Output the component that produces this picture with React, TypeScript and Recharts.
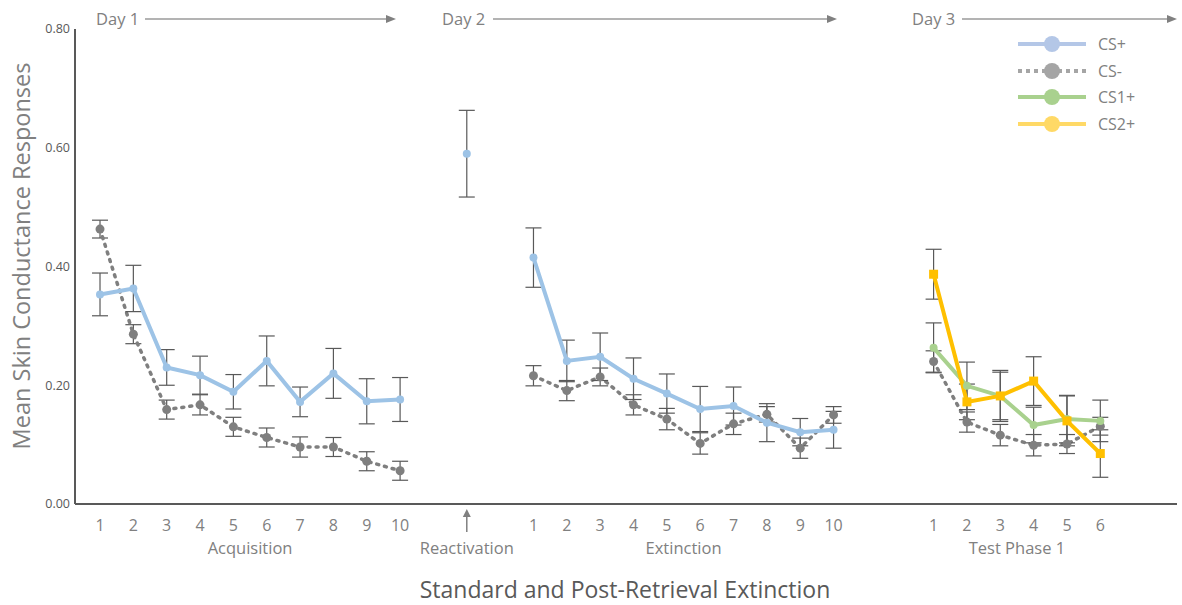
import React from 'react';
import { LineChart, Line, XAxis, YAxis, ErrorBar } from 'recharts';

// slot layout on the x axis
const acqStart = 0;
const reactSlot = 11;
const extStart = 13;
const testStart = 25;
const lastSlot = 30;

const acqCSPlus = [0.353, 0.363, 0.23, 0.217, 0.189, 0.241, 0.172, 0.22, 0.173, 0.176];
const acqCSPlusErr = [0.036, 0.039, 0.03, 0.032, 0.029, 0.042, 0.025, 0.042, 0.038, 0.037];
const acqCSMinus = [0.463, 0.286, 0.159, 0.167, 0.13, 0.112, 0.096, 0.096, 0.072, 0.056];
const acqCSMinusErr = [0.015, 0.016, 0.016, 0.017, 0.016, 0.016, 0.017, 0.016, 0.016, 0.016];

const reactCSPlus = 0.59;
const reactCSPlusErr = 0.073;

const extCSPlus = [0.415, 0.241, 0.248, 0.211, 0.186, 0.16, 0.165, 0.137, 0.121, 0.125];
const extCSPlusErr = [0.05, 0.035, 0.04, 0.035, 0.033, 0.038, 0.032, 0.032, 0.023, 0.031];
const extCSMinus = [0.216, 0.191, 0.214, 0.167, 0.143, 0.102, 0.135, 0.151, 0.094, 0.15];
const extCSMinusErr = [0.017, 0.017, 0.015, 0.017, 0.018, 0.018, 0.018, 0.013, 0.017, 0.014];

const testCSMinus = [0.24, 0.138, 0.116, 0.099, 0.101, 0.131];
const testCSMinusErr = [0.018, 0.017, 0.018, 0.018, 0.016, 0.015];
const testCS1Plus = [0.263, 0.199, 0.182, 0.133, 0.143, 0.14];
const testCS1PlusErr = [0.042, 0.04, 0.04, 0.03, 0.04, 0.035];
const testCS2Plus = [0.387, 0.172, 0.182, 0.207, 0.14, 0.085];
const testCS2PlusErr = [0.042, 0.03, 0.043, 0.041, 0.042, 0.04];

const yTicks = [0, 0.2, 0.4, 0.6, 0.8];

const groups = [
  { name: 'Acquisition', start: acqStart, count: acqCSPlus.length },
  { name: 'Reactivation', start: reactSlot, count: 1 },
  { name: 'Extinction', start: extStart, count: extCSPlus.length },
  { name: 'Test Phase 1', start: testStart, count: testCSMinus.length },
];

const legendItems = [
  { name: 'CS+', color: '#b4c7e7', dashed: false },
  { name: 'CS-', color: '#a5a5a5', dashed: true },
  { name: 'CS1+', color: '#a9d18e', dashed: false },
  { name: 'CS2+', color: '#ffd966', dashed: false },
];

const FONT = '"Open Sans", "Noto Sans", sans-serif';

type Row = {
  x: number;
  csPlus: number | null;
  csPlusErr: number | null;
  csMinus: number | null;
  csMinusErr: number | null;
  cs1Plus: number | null;
  cs1PlusErr: number | null;
  cs2Plus: number | null;
  cs2PlusErr: number | null;
};

const rows: Row[] = [];
for (let i = 0; i <= lastSlot; i++) {
  rows.push({
    x: i,
    csPlus: null,
    csPlusErr: null,
    csMinus: null,
    csMinusErr: null,
    cs1Plus: null,
    cs1PlusErr: null,
    cs2Plus: null,
    cs2PlusErr: null,
  });
}
acqCSPlus.forEach((v, i) => {
  const r = rows[acqStart + i];
  r.csPlus = v;
  r.csPlusErr = acqCSPlusErr[i];
  r.csMinus = acqCSMinus[i];
  r.csMinusErr = acqCSMinusErr[i];
});
rows[reactSlot].csPlus = reactCSPlus;
rows[reactSlot].csPlusErr = reactCSPlusErr;
extCSPlus.forEach((v, i) => {
  const r = rows[extStart + i];
  r.csPlus = v;
  r.csPlusErr = extCSPlusErr[i];
  r.csMinus = extCSMinus[i];
  r.csMinusErr = extCSMinusErr[i];
});
testCSMinus.forEach((v, i) => {
  const r = rows[testStart + i];
  r.csMinus = v;
  r.csMinusErr = testCSMinusErr[i];
  r.cs1Plus = testCS1Plus[i];
  r.cs1PlusErr = testCS1PlusErr[i];
  r.cs2Plus = testCS2Plus[i];
  r.cs2PlusErr = testCS2PlusErr[i];
});

// trial number ticks
const trialTickLabels: Record<number, string> = {};
acqCSPlus.forEach((_, i) => (trialTickLabels[acqStart + i] = String(i + 1)));
trialTickLabels[reactSlot] = '';
extCSPlus.forEach((_, i) => (trialTickLabels[extStart + i] = String(i + 1)));
testCSMinus.forEach((_, i) => (trialTickLabels[testStart + i] = String(i + 1)));
const trialTicks = Object.keys(trialTickLabels).map(Number);

const groupTicks = groups.map((g) => g.start + (g.count - 1) / 2);
const groupName = (v: number) => {
  const g = groups.find((gr) => gr.start + (gr.count - 1) / 2 === v);
  return g ? g.name : '';
};

const TrialTick = (props: any) => {
  const { x, y, payload } = props;
  if (payload.value === reactSlot) {
    return (
      <g>
        <line x1={x} y1={y + 11} x2={x} y2={y + 28} stroke="#808080" strokeWidth={1.5} />
        <polygon points={`${x - 4},${y + 13} ${x + 4},${y + 13} ${x},${y + 5}`} fill="#808080" />
      </g>
    );
  }
  return (
    <text x={x} y={y + 27} textAnchor="middle" fill="#808080" fontSize={16} fontFamily={FONT}>
      {trialTickLabels[payload.value]}
    </text>
  );
};

const GroupTick = (props: any) => {
  const { x, y, payload } = props;
  return (
    <text x={x} y={y + 20} textAnchor="middle" fill="#808080" fontSize={16.5} fontFamily={FONT}>
      {groupName(payload.value)}
    </text>
  );
};

const SquareDot = (props: any) => {
  const { cx, cy, value, index } = props;
  if (value == null || cy == null) return <g key={`sq-${index}`} />;
  return <rect key={`sq-${index}`} x={cx - 4.5} y={cy - 4.5} width={9} height={9} fill="#ffc000" />;
};

const dayArrows = [
  { label: 'Day 1', x: 96, x1: 145, x2: 396 },
  { label: 'Day 2', x: 442, x1: 493, x2: 837 },
  { label: 'Day 3', x: 912, x1: 962, x2: 1177 },
];

export default function App() {
  return (
    <div style={{ position: 'absolute', left: 0, top: 0, width: 1182, height: 605, background: '#fff' }}>
      <LineChart width={1182} height={605} data={rows} margin={{ top: 29, right: 5, bottom: 41, left: 0 }}>
        <YAxis
          width={75}
          domain={[0, 0.8]}
          ticks={yTicks}
          tickFormatter={(v: number) => v.toFixed(2)}
          tickLine={false}
          tickSize={0}
          tickMargin={5}
          axisLine={{ stroke: '#595959', strokeWidth: 2 }}
          tick={{ fill: '#595959', fontSize: 12.5, fontFamily: FONT }}
        />
        <XAxis
          xAxisId="a_trial"
          dataKey="x"
          type="number"
          domain={[-0.75, 32.3]}
          allowDataOverflow
          ticks={trialTicks}
          interval={0}
          height={30}
          tickLine={false}
          tickSize={0}
          tickMargin={0}
          axisLine={{ stroke: '#595959', strokeWidth: 2 }}
          tick={<TrialTick />}
        />
        <XAxis
          xAxisId="b_group"
          dataKey="x"
          type="number"
          domain={[-0.75, 32.3]}
          allowDataOverflow
          ticks={groupTicks}
          interval={0}
          height={30}
          tickLine={false}
          tickSize={0}
          tickMargin={0}
          axisLine={false}
          tick={<GroupTick />}
        />
        <Line
          xAxisId="a_trial"
          dataKey="csMinus"
          name="CS-"
          stroke="#7f7f7f"
          strokeWidth={3.5}
          strokeDasharray="2 6"
          strokeLinecap="round"
          dot={{ r: 4.5, fill: '#7f7f7f', stroke: 'none' }}
          isAnimationActive={false}
        >
          <ErrorBar dataKey="csMinusErr" width={8} stroke="#595959" strokeWidth={1.2} direction="y" />
        </Line>
        <Line
          xAxisId="a_trial"
          dataKey="csPlus"
          name="CS+"
          stroke="#9dc3e6"
          strokeWidth={4}
          dot={{ r: 4, fill: '#9dc3e6', stroke: 'none' }}
          isAnimationActive={false}
        >
          <ErrorBar dataKey="csPlusErr" width={8} stroke="#595959" strokeWidth={1.2} direction="y" />
        </Line>
        <Line
          xAxisId="a_trial"
          dataKey="cs1Plus"
          name="CS1+"
          stroke="#a9d18e"
          strokeWidth={4}
          dot={{ r: 4, fill: '#a9d18e', stroke: 'none' }}
          isAnimationActive={false}
        >
          <ErrorBar dataKey="cs1PlusErr" width={8} stroke="#595959" strokeWidth={1.2} direction="y" />
        </Line>
        <Line
          xAxisId="a_trial"
          dataKey="cs2Plus"
          name="CS2+"
          stroke="#ffc000"
          strokeWidth={4}
          dot={<SquareDot />}
          isAnimationActive={false}
        >
          <ErrorBar dataKey="cs2PlusErr" width={8} stroke="#595959" strokeWidth={1.2} direction="y" />
        </Line>
      </LineChart>
      <div
        style={{
          position: 'absolute',
          left: 1016,
          top: 31,
          fontFamily: FONT,
          fontSize: 16,
          color: '#808080',
        }}
      >
        {legendItems.map((it) => (
          <div key={it.name} style={{ display: 'flex', alignItems: 'center', height: 26.5 }}>
            <svg width={72} height={20} style={{ marginRight: 10 }}>
              <line
                x1={2}
                y1={10}
                x2={70}
                y2={10}
                stroke={it.color}
                strokeWidth={4}
                strokeDasharray={it.dashed ? '4 4' : undefined}
              />
              <circle cx={36} cy={10} r={8} fill={it.color} />
            </svg>
            <span>{it.name}</span>
          </div>
        ))}
      </div>
      <svg
        width={1182}
        height={605}
        style={{ position: 'absolute', left: 0, top: 0, pointerEvents: 'none' }}
      >
        {dayArrows.map((d) => (
          <g key={d.label}>
            <text x={d.x} y={25} fill="#808080" fontSize={16.5} fontFamily={FONT}>
              {d.label}
            </text>
            <line x1={d.x1} y1={19} x2={d.x2 - 8} y2={19} stroke="#9a9a9a" strokeWidth={1.5} />
            <polygon points={`${d.x2 - 10},${15} ${d.x2},${19} ${d.x2 - 10},${23}`} fill="#808080" />
          </g>
        ))}
        <text
          transform="translate(30, 256) rotate(-90)"
          textAnchor="middle"
          fill="#808080"
          fontSize={23.5}
          fontFamily={FONT}
        >
          Mean Skin Conductance Responses
        </text>
        <text x={625} y={598} textAnchor="middle" fill="#595959" fontSize={23} fontFamily={FONT}>
          Standard and Post-Retrieval Extinction
        </text>
      </svg>
    </div>
  );
}
